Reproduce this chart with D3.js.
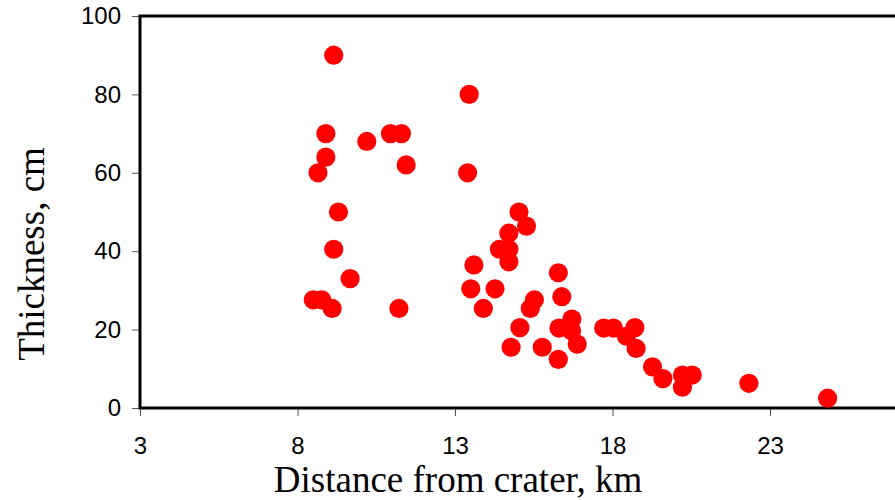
<!DOCTYPE html>
<html>
<head>
<meta charset="utf-8">
<script src="https://cdn.jsdelivr.net/npm/d3@7"></script>
<style>
    body { margin: 0; background: #fff; }
    #graph svg { display: block; }
</style>
</head>
<body>
<div id="graph"></div>
<script>
/*global d3 */

// distance from crater (km) and deposit thickness (cm)
var distanceKm = [9.15, 13.45, 8.9, 10.2, 10.95, 11.3, 8.9, 8.65, 11.45, 13.4,
    9.3, 15.03, 15.27, 14.71, 14.41, 14.71, 14.71, 9.15, 9.67, 13.6,
    13.5, 14.27, 13.9, 8.5, 8.77, 9.1, 11.22, 16.28, 16.39, 15.52,
    15.39, 15.06, 14.78, 15.77, 16.28, 16.3, 16.71, 16.7, 16.88, 17.72,
    18.03, 18.71, 18.44, 18.75, 19.27, 19.6, 20.22, 20.53, 20.22, 22.33,
    24.83];
var thicknessCm = [90, 80, 70, 68, 70, 70, 64, 60, 62, 60,
    50, 50, 46.4, 44.6, 40.5, 40.5, 37.3, 40.5, 33, 36.5,
    30.4, 30.4, 25.4, 27.6, 27.6, 25.4, 25.4, 34.5, 28.4, 27.6,
    25.4, 20.5, 15.5, 15.5, 12.4, 20.4, 22.7, 19.7, 16.3, 20.4,
    20.4, 20.5, 18.3, 15.2, 10.5, 7.5, 8.4, 8.4, 5.3, 6.3,
    2.5];
var xTicks = [3, 8, 13, 18, 23];
var yTicks = [0, 20, 40, 60, 80, 100];

function dessinNuage() {
    "use strict";
    var W = 895, H = 500,
        left = 140, top = 16, bottom = 408,
        pxParKm = 31.5,

        svg = d3.select("#graph")
            .append("svg")
                .attr("width", W)
                .attr("height", H),

        // the frame runs to 28 km, past the right edge of the picture
        x = d3.scaleLinear()
            .domain([3, 28])
            .range([left, left + 25 * pxParKm]),

        y = d3.scaleLinear()
            .domain([0, 100])
            .range([bottom, top]),

        points = distanceKm.map(function (d, i) { return {d: d, t: thicknessCm[i]}; });

    // ticks (thin grey) and labels
    var ax = svg.append("g")
        .attr("transform", "translate(0," + bottom + ")")
        .call(d3.axisBottom(x).tickValues(xTicks).tickSize(8).tickPadding(21));
    var ay = svg.append("g")
        .attr("transform", "translate(" + left + ",0)")
        .call(d3.axisLeft(y).tickValues(yTicks).tickSize(8).tickPadding(11));
    [ax, ay].forEach(function (g) {
        g.select(".domain").remove();
        g.selectAll(".tick line").attr("stroke", "#555").attr("stroke-width", 1);
        g.selectAll(".tick text")
            .attr("fill", "#000")
            .style("font-family", "'Liberation Sans', Arial, sans-serif")
            .style("font-size", "24px");
    });

    // frame: top, left and bottom lines
    svg.append("path")
        .attr("d", "M" + x(28) + "," + y(100) + "H" + x(3) + "V" + y(0) + "H" + x(28))
        .attr("fill", "none")
        .attr("stroke", "#000")
        .attr("stroke-width", 3);

    svg.selectAll(".point")
        .data(points)
        .enter()
        .append("circle")
        .attr("class", "point")
        .attr("cx", function (d) { return x(d.d); })
        .attr("cy", function (d) { return y(d.t); })
        .attr("r", 9.6)
        .attr("fill", "#ff0000");

    svg.append("text")
        .attr("x", 458)
        .attr("y", 492)
        .style("text-anchor", "middle")
        .style("font-family", "'Liberation Serif', 'Times New Roman', serif")
        .style("font-size", "37px")
        .text("Distance from crater, km");

    svg.append("text")
        .attr("transform", "translate(44,254) rotate(-90)")
        .style("text-anchor", "middle")
        .style("font-family", "'Liberation Serif', 'Times New Roman', serif")
        .style("font-size", "37px")
        .text("Thickness, cm");
}

dessinNuage();
</script>
</body>
</html>
